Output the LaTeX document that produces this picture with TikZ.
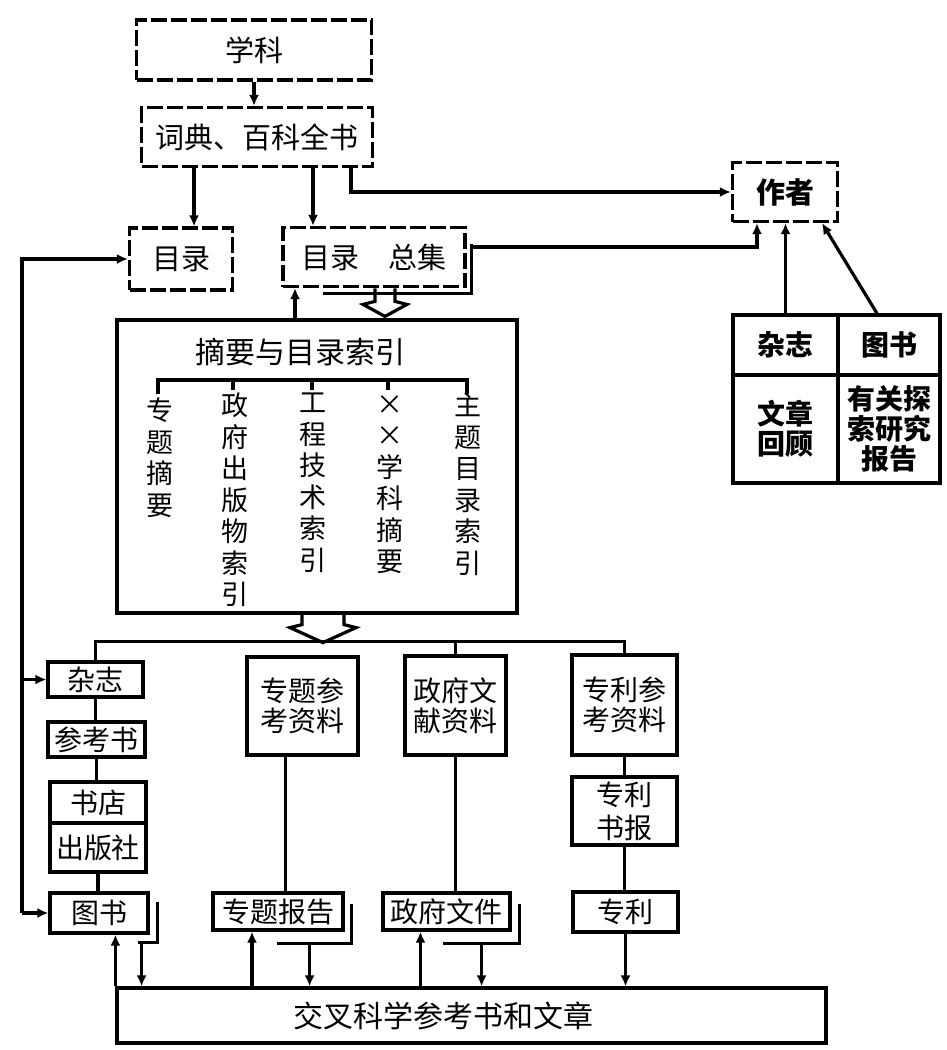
\documentclass[tikz,border=0pt]{standalone}
\usepackage{fontspec}
\setmainfont{Noto Sans CJK SC}
\usetikzlibrary{arrows.meta,calc}

\begin{document}
\begin{tikzpicture}[x=1pt,y=-1pt,
  dbox/.style={draw=black,line width=3.2pt,dash pattern=on 16pt off 4pt,fill=white,
               inner sep=1pt,align=center,font=\fontsize{29}{31}\selectfont},
  sbox/.style={draw=black,line width=3.2pt,fill=white,inner sep=1pt,align=center,
               font=\fontsize{28}{30}\selectfont},
  cell/.style={sbox,font=\fontsize{28}{30}\selectfont\bfseries},
  vtext/.style={anchor=north,inner sep=0pt,align=center,font=\fontsize{27}{31.5}\selectfont},
  link/.style={line width=3.2pt,draw=black,line cap=rect},
  arr/.style={-{Latex[length=11pt,width=10pt]},line width=3.2pt,draw=black},
  hollow/.style={line width=3.2pt,draw=black,line join=miter}
]
\useasboundingbox (0,0) rectangle (946,1050);

% top chain
\node[dbox,minimum width=235pt,minimum height=60pt] (subject) at (254,50) {学科};
\node[dbox,minimum width=231pt,minimum height=59pt] (dict) at (257,137) {词典、百科全书};
\node[dbox,minimum width=103pt,minimum height=62pt] (catalog) at (181,259) {目录};
\node[dbox,minimum width=182pt,minimum height=59pt] (collect) at (374,257) {目录\quad 总集};
\node[dbox,font=\fontsize{29}{31}\selectfont\bfseries,minimum width=105pt,minimum height=59pt] (author) at (785,192) {作者};

% table at right
\node[cell,minimum width=105pt,minimum height=60pt] (tjournal) at (785.5,345) {杂志};
\node[cell,minimum width=102pt,minimum height=60pt] (tbook) at (889,345) {图书};
\node[cell,minimum width=105pt,minimum height=108pt] (treview) at (785.5,429) {文章\\回顾};
\node[cell,minimum width=102pt,minimum height=108pt] (treport) at (889,429) {有关探\\索研究\\报告};

% index box
\node[sbox,minimum width=400pt,minimum height=293pt] (index) at (317,466.5) {};
\node[font=\fontsize{30}{32}\selectfont] (indextitle) at (300,352) {摘要与目录索引};
\draw[link] (158,392) |- (467,380) -- (467,392);
\foreach \x in {233,312,388} \draw[link] (\x,380) -- (\x,388);
\node[vtext] (col1) at (160,398) {专\\题\\摘\\要};
\node[vtext] (col2) at (235,393) {政\\府\\出\\版\\物\\索\\引};
\node[vtext] (col3) at (313,393) {工\\程\\技\\术\\索\\引};
\node[vtext] (col4) at (390,395) {×\\×\\学\\科\\摘\\要};
\node[vtext] (col5) at (468,393) {主\\题\\目\\录\\索\\引};

% left column
\node[sbox,minimum width=95pt,minimum height=35pt] (jmag) at (95.5,679.5) {杂志};
\node[sbox,minimum width=97pt,minimum height=35pt] (jref) at (96.5,739.5) {参考书};
\node[sbox,minimum width=96pt,minimum height=41pt] (jshop) at (98,802.5) {书店};
\node[sbox,minimum width=96pt,minimum height=49pt] (jpress) at (98,847.5) {出版社};
\node[sbox,minimum width=98pt,minimum height=40pt] (jbook) at (99,913) {图书};

% middle and right columns
\node[sbox,minimum width=111pt,minimum height=98pt] (topicref) at (302.5,706) {专题参\\考资料};
\node[sbox,minimum width=101pt,minimum height=99pt] (govref) at (455.5,705.5) {政府文\\献资料};
\node[sbox,minimum width=105pt,minimum height=100pt] (patref) at (624.5,705) {专利参\\考资料};
\node[sbox,minimum width=105pt,minimum height=68pt,font=\fontsize{28}{33}\selectfont] (patjour) at (624.5,811) {专利\\书报};
\node[sbox,minimum width=105pt,minimum height=40pt] (patent) at (625.5,912) {专利};
\node[sbox,minimum width=130pt,minimum height=37pt] (topicrep) at (278,911.5) {专题报告};
\node[sbox,minimum width=127pt,minimum height=37pt] (govdoc) at (446.5,911.5) {政府文件};
\node[sbox,minimum width=709pt,minimum height=55pt,font=\fontsize{30}{32}\selectfont] (cross) at (471.5,1015.5) {交叉科学参考书和文章\hspace*{56pt}};

% upper connectors
\draw[arr] (subject.south) -- (subject.south |- dict.north);
\coordinate (dcat) at ([xshift=13pt]catalog.north);
\draw[arr] (dcat |- dict.south) -- (dcat);
\coordinate (dcol) at ([xshift=-61pt]collect.north);
\draw[arr] (dcol |- dict.south) -- (dcol);
\draw[arr] ([xshift=94pt]dict.south) |- (author.west);
\draw[link] ([xshift=5pt,yshift=-20pt]collect.north east) |- ([xshift=-142pt,yshift=-5pt]collect.south east);
\coordinate (cshadow) at ([xshift=5pt,yshift=10pt]collect.east);
\draw[arr] (cshadow) -| ([xshift=-28pt]author.south);
\draw[arr] (tjournal.north) -- (tjournal.north |- author.south);
\draw[arr] ([xshift=-12pt]tbook.north) -- ([xshift=37pt]author.south);
\coordinate (cup) at ([xshift=-79pt]collect.south);
\draw[arr] (cup |- index.north) -- (cup);

% hollow arrows
\coordinate (hv1) at ($(index.north)+(68,-2)$);
\draw[hollow] ($(hv1)+(-10,-28)$) -- ++(0,13) -- ++(-12,3) -- (hv1)
  -- ++(22,-12) -- ++(-12,-3) -- ++(0,-13);
\coordinate (hv2) at ($(index.south)+(6,28)$);
\draw[hollow] ($(hv2)+(-21,-28)$) -- ++(0,10) -- ++(-12,3) -- (hv2)
  -- ++(33,-15) -- ++(-12,-3) -- ++(0,-10);

% bus to the lower columns
\coordinate (bus) at ($(jmag.north)+(0,-19)$);
\draw[link] (jmag.north) -- (bus) -| (patref.north);
\draw[link] (govref.north) -- (govref.north |- bus);

% trunk at far left
\coordinate (trunk) at (22,0);
\draw[arr] (trunk |- jbook.west) |- (catalog.west);
\draw[arr] (trunk |- jmag.west) -- (jmag.west);
\draw[arr] (trunk |- jbook.west) -- (jbook.west);

% left column chain
\draw[link] (jmag.south) -- (jmag.south |- jref.north);
\draw[link] (jref.south) -- (jref.south |- jshop.north);
\draw[link] (jpress.south) -- (jpress.south |- jbook.north);
\draw[link] ([xshift=8pt,yshift=-12pt]jbook.north east) |- ([xshift=-10pt,yshift=-8pt]jbook.south east);
\coordinate (bdown) at ([xshift=-8pt,yshift=-8pt]jbook.south east);
\draw[arr] (bdown) -- (bdown |- cross.north);
\draw[arr] (cross.north west) -- (cross.north west |- jbook.south);

% topic reports
\coordinate (tr) at ([xshift=-17pt]topicref.south);
\draw[link] (tr) -- (tr |- topicrep.north);
\draw[link] ([xshift=7pt,yshift=-14pt]topicrep.north east) |- ([xshift=-66pt,yshift=-12pt]topicrep.south east);
\coordinate (trd) at ([xshift=-35pt,yshift=-12pt]topicrep.south east);
\draw[arr] (trd) -- (trd |- cross.north);
\coordinate (tru) at ([xshift=-26pt]topicrep.south);
\draw[arr] (tru |- cross.north) -- (tru);

% government documents
\draw[link] (govref.south) -- (govref.south |- govdoc.north);
\draw[link] ([xshift=8pt,yshift=-14pt]govdoc.north east) |- ([xshift=-67pt,yshift=-12pt]govdoc.south east);
\coordinate (gdd) at ([xshift=-30pt,yshift=-12pt]govdoc.south east);
\draw[arr] (gdd) -- (gdd |- cross.north);
\coordinate (gdu) at ([xshift=-26pt]govdoc.south);
\draw[arr] (gdu |- cross.north) -- (gdu);

% patents
\draw[link] (patref.south) -- (patref.south |- patjour.north);
\draw[link] (patjour.south) -- (patjour.south |- patent.north);
\draw[arr] (patent.south) -- (patent.south |- cross.north);
\end{tikzpicture}
\end{document}
